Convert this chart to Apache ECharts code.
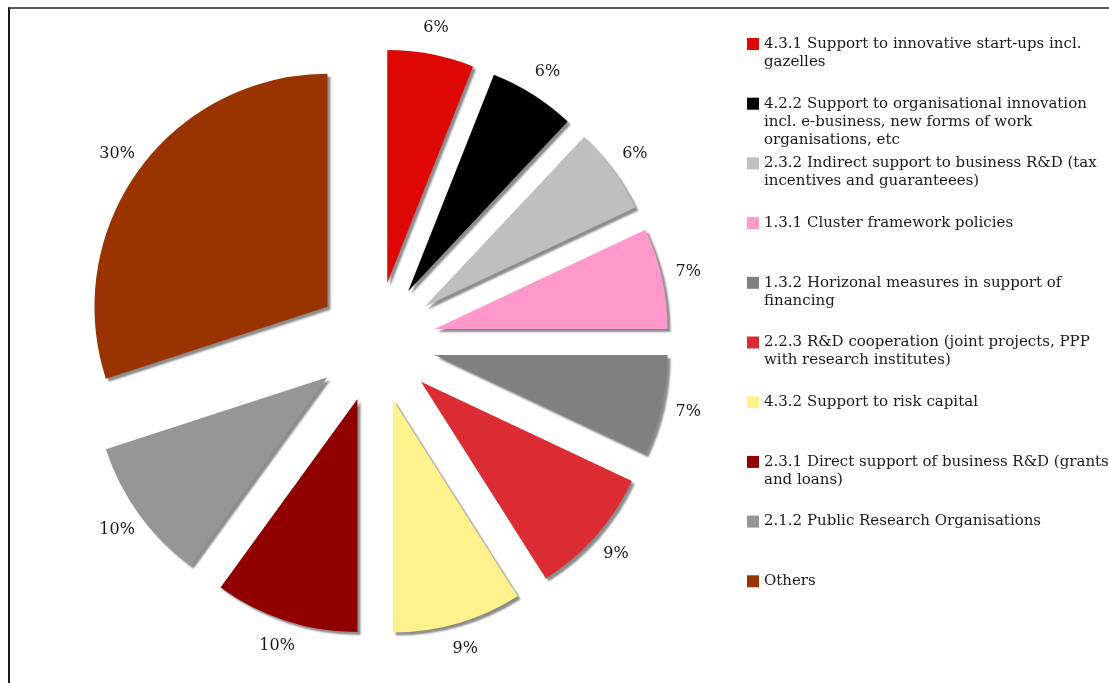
<!DOCTYPE html>
<html>
<head>
<meta charset="utf-8">
<script src="https://cdn.jsdelivr.net/npm/echarts@6/dist/echarts.min.js"></script>
<style>
  html, body { margin: 0; padding: 0; background: #ffffff; }
  #wrap { position: relative; width: 1109px; height: 683px; overflow: hidden; }
  #chart { position: absolute; left: 0; top: 0; width: 1109px; height: 683px; }
  #frame { position: absolute; left: 8px; top: 7px; width: 1200px; height: 800px;
           border-left: 2px solid #1a1a1a; border-top: 2px solid #5a5a5a; pointer-events: none; }
</style>
</head>
<body>
<div id="wrap">
  <div id="chart"></div>
  <div id="frame"></div>
</div>
<script>
// Measure categories, clockwise from 12 o'clock
const categories = [
  '4.3.1 Support to innovative start-ups incl. gazelles',
  '4.2.2 Support to organisational innovation incl. e-business, new forms of work organisations, etc',
  '2.3.2 Indirect support to business R&D (tax incentives and guaranteees)',
  '1.3.1 Cluster framework policies',
  '1.3.2 Horizonal measures in support of financing',
  '2.2.3 R&D cooperation (joint projects, PPP with research institutes)',
  '4.3.2 Support to risk capital',
  '2.3.1 Direct support of business R&D (grants and loans)',
  '2.1.2 Public Research Organisations',
  'Others'
];

// Share of each measure, in percent
const shares = [6, 6, 6, 7, 7, 9, 9, 10, 10, 30];

// Legend text as it wraps in the key
const legendText = [
  '4.3.1 Support to innovative start-ups incl.\ngazelles',
  '4.2.2 Support to organisational innovation\nincl. e-business, new forms of work\norganisations, etc',
  '2.3.2 Indirect support to business R&D (tax\nincentives and guaranteees)',
  '1.3.1 Cluster framework policies',
  '1.3.2 Horizonal measures in support of\nfinancing',
  '2.2.3 R&D cooperation (joint projects, PPP\nwith research institutes)',
  '4.3.2 Support to risk capital',
  '2.3.1 Direct support of business R&D (grants\nand loans)',
  '2.1.2 Public Research Organisations',
  'Others'
];

const colors = [
  '#DD0806', '#000000', '#BFBFBF', '#FF99CC', '#808080',
  '#DC2C33', '#FFF18C', '#900000', '#969696', '#993300'
];

const FONT = 'DejaVu Serif';
const FONT_SIZE = 15;
const LINE_H = 18;
const ROW_TOP = 44;     // centre of the first legend row
const ROW_PITCH = 59.7; // distance between legend rows

// The key centres its text on the swatch; leading blank lines keep the
// swatch level with the first line of a wrapped entry.
const keyText = {};
categories.forEach((c, i) => {
  const lines = legendText[i].split('\n').length;
  keyText[c] = '\n'.repeat(lines - 1) + legendText[i];
});

// One legend block per entry, rows on a fixed pitch
const legends = categories.map((name, i) => {
  const lines = legendText[i].split('\n').length;
  const boxH = (2 * lines - 1) * LINE_H;
  return {
    orient: 'vertical',
    left: 747,
    top: ROW_TOP + i * ROW_PITCH - boxH / 2,
    padding: 0,
    icon: 'rect',
    itemWidth: 12,
    itemHeight: 12,
    selectedMode: false,
    data: [name],
    formatter: n => keyText[n],
    textStyle: {
      fontFamily: FONT,
      fontSize: FONT_SIZE,
      lineHeight: LINE_H,
      color: '#1a1a1a'
    }
  };
});

const chart = echarts.init(document.getElementById('chart'), null, { renderer: 'canvas' });

chart.setOption({
  animation: false,
  backgroundColor: '#ffffff',
  legend: legends,
  series: [{
    type: 'pie',
    center: [376, 342],
    radius: 233,
    startAngle: 90,
    clockwise: true,
    selectedMode: 'multiple',
    selectedOffset: 60,
    avoidLabelOverlap: false,
    emphasis: { disabled: true },
    select: { itemStyle: { borderWidth: 0 } },
    itemStyle: {
      borderWidth: 0,
      shadowBlur: 2,
      shadowOffsetX: 3,
      shadowOffsetY: 3,
      shadowColor: 'rgba(0,0,0,0.45)'
    },
    label: {
      show: true,
      position: 'outside',
      formatter: '{c}%',
      fontFamily: FONT,
      fontSize: 16,
      color: '#1a1a1a',
      align: 'center',
      distanceToLabelLine: 0
    },
    labelLayout: { align: 'center', verticalAlign: 'middle' },
    labelLine: { show: false, length: 27, length2: 0 },
    data: categories.map((name, i) => ({
      name: name,
      value: shares[i],
      selected: true,
      itemStyle: { color: colors[i] }
    }))
  }]
});
</script>
</body>
</html>
